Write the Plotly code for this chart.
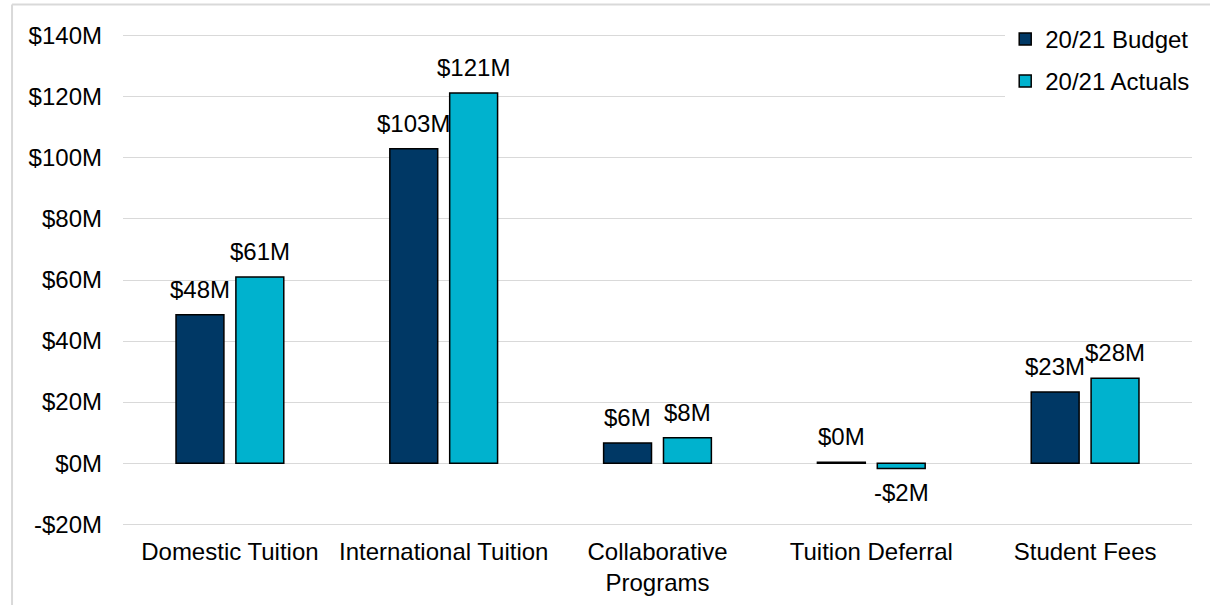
import plotly.graph_objects as go

categories = ["Domestic Tuition", "International Tuition", "Collaborative<br>Programs",
              "Tuition Deferral", "Student Fees"]
budget = [48.6, 103.0, 6.6, 0.3, 23.3]
actuals = [61.0, 121.3, 8.3, -1.8, 27.8]
budget_labels = ["$48M", "$103M", "$6M", "$0M", "$23M"]
actual_labels = ["$61M", "$121M", "$8M", "-$2M", "$28M"]
series_names = ["20/21 Budget", "20/21 Actuals"]
tick_vals = [-20, 0, 20, 40, 60, 80, 100, 120, 140]
tick_text = ["-$20M", "$0M", "$20M", "$40M", "$60M", "$80M", "$100M", "$120M", "$140M"]

FONT = "Arial, 'Liberation Sans', sans-serif"
FS = 24
colors = ["#003865", "#00B2CE"]

fig = go.Figure()
for i, (name, vals) in enumerate([(series_names[0], budget), (series_names[1], actuals)]):
    fig.add_trace(go.Bar(
        x=categories, y=vals, name=name,
        marker=dict(color=colors[i], line=dict(color="#000000", width=1.5)),
        legendgroup=name,
    ))

annotations = []
for i, (vals, labs) in enumerate([(budget, budget_labels), (actuals, actual_labels)]):
    xs = -30 if i == 0 else 30
    for c, v, t in zip(categories, vals, labs):
        pos = v >= 0
        annotations.append(dict(
            x=c, y=v, xref="x", yref="y", text=t, showarrow=False,
            xshift=xs, yshift=10 if pos else -8,
            yanchor="bottom" if pos else "top",
            font=dict(family=FONT, size=FS, color="#000000"),
        ))

fig.update_layout(
    width=1210, height=605,
    margin=dict(l=123, r=18, t=34, b=79, autoexpand=False),
    paper_bgcolor="white", plot_bgcolor="white",
    barmode="group", bargap=0.44, bargroupgap=0.2,
    font=dict(family=FONT, size=FS, color="#000000"),
    showlegend=True,
    legend=dict(x=1.003, xanchor="right", y=1.035, yanchor="top",
                bgcolor="white", font=dict(family=FONT, size=FS, color="#000000"),
                traceorder="grouped", tracegroupgap=8,
                itemwidth=30),
    annotations=annotations,
    shapes=[
        dict(type="line", xref="paper", yref="paper", x0=-0.1038, x1=-0.1038, y0=1.06, y1=-0.2,
             line=dict(color="#D9D9D9", width=2)),
        dict(type="line", xref="paper", yref="paper", x0=-0.1038, x1=1.02, y0=1.06, y1=1.06,
             line=dict(color="#D9D9D9", width=2)),
    ],
)
fig.update_xaxes(showgrid=False, showline=False, ticks="", tickfont=dict(size=FS),
                 ticklabelstandoff=9, automargin=False)
fig.update_yaxes(range=[-20.6, 140.6], tickvals=tick_vals, ticktext=tick_text,
                 showgrid=True, gridcolor="#D9D9D9", gridwidth=1.3,
                 zeroline=True, zerolinecolor="#D9D9D9", zerolinewidth=1.3,
                 showline=False, ticklabelstandoff=20, tickfont=dict(size=FS),
                 automargin=False)

fig.write_html("out.html")
